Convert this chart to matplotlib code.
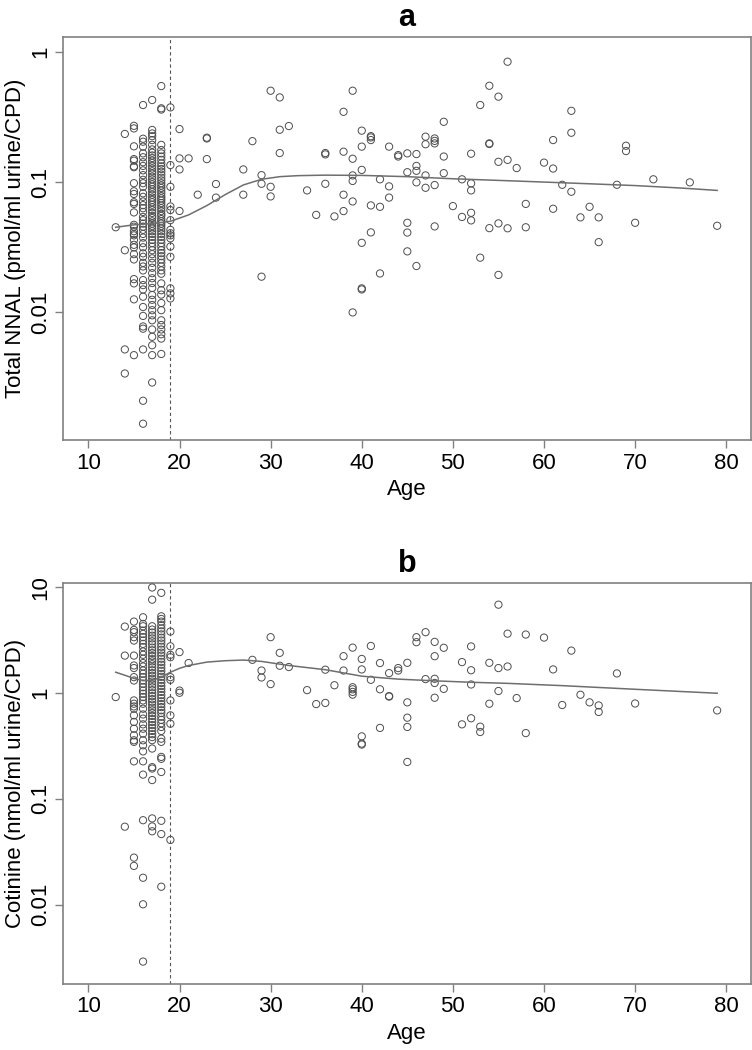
import matplotlib
matplotlib.use("Agg")
import matplotlib.pyplot as plt
import numpy as np

plt.rcParams['font.family'] = ['Liberation Sans', 'DejaVu Sans']

# ---------------- Panel a: Total NNAL ----------------
nnal_age13 = [0.045]
nnal_age14 = [0.234, 0.030, 0.0052, 0.0034]
nnal_age15 = [0.27, 0.258, 0.188, 0.15, 0.146, 0.132, 0.13, 0.098, 0.085, 0.081, 0.07,
              0.068, 0.0585, 0.047, 0.0455, 0.042, 0.04, 0.039, 0.036, 0.033, 0.0315,
              0.028, 0.0255, 0.018, 0.0167, 0.0126, 0.0047]
nnal_age16 = [0.39, 0.215, 0.204, 0.187, 0.166, 0.155, 0.142, 0.133, 0.123, 0.113, 0.104,
              0.098, 0.092, 0.082, 0.077, 0.071, 0.0665, 0.063, 0.059, 0.054, 0.051, 0.048,
              0.0455, 0.043, 0.04, 0.0375, 0.034, 0.0316, 0.0284, 0.0267, 0.024, 0.0225,
              0.021, 0.0177, 0.0162, 0.015, 0.0132, 0.011, 0.0094, 0.0078, 0.0075, 0.0052,
              0.0021, 0.0014]
nnal_age17 = [0.426, 0.251, 0.236, 0.225, 0.21, 0.193, 0.178, 0.168, 0.16, 0.153, 0.146,
              0.14, 0.133, 0.127, 0.121, 0.116, 0.11, 0.105, 0.1, 0.096, 0.092, 0.088,
              0.084, 0.08, 0.076, 0.073, 0.07, 0.067, 0.064, 0.061, 0.058, 0.055, 0.053,
              0.05, 0.048, 0.046, 0.044, 0.042, 0.04, 0.038, 0.036, 0.034, 0.032, 0.03,
              0.028, 0.026, 0.024, 0.022, 0.02, 0.0183, 0.0168, 0.0154, 0.0136, 0.0125,
              0.0114, 0.0104, 0.0095, 0.0087, 0.0074, 0.0065, 0.0056, 0.0047, 0.0029]
nnal_age18 = [0.545, 0.368, 0.36, 0.193, 0.176, 0.166, 0.157, 0.148, 0.139, 0.132, 0.126,
              0.12, 0.114, 0.108, 0.103, 0.098, 0.094, 0.09, 0.086, 0.082, 0.078, 0.075,
              0.072, 0.069, 0.066, 0.063, 0.06, 0.057, 0.055, 0.052, 0.05, 0.048, 0.046,
              0.044, 0.042, 0.04, 0.038, 0.036, 0.034, 0.032, 0.03, 0.0285, 0.027, 0.0255,
              0.024, 0.0225, 0.021, 0.0198, 0.0167, 0.0148, 0.0137, 0.0118, 0.0104, 0.0087,
              0.008, 0.0074, 0.0068, 0.0063, 0.0048]
nnal_age19 = [0.374, 0.135, 0.092, 0.065, 0.061, 0.051, 0.043, 0.039, 0.0405, 0.037,
              0.032, 0.0267, 0.0153, 0.014, 0.0128]

adult_age_a = [20, 20, 20, 20, 21, 22, 23, 23, 23, 24, 24, 27, 27, 28, 29, 29, 29, 30, 30, 30,
               31, 31, 31, 32, 34, 35, 36, 36, 36, 37, 38, 38, 38, 38,
               39, 39, 39, 39, 39, 39, 40, 40, 40, 40, 40, 40, 41, 41, 41, 41, 41,
               42, 42, 42, 43, 43, 43, 44, 44, 45, 45, 45, 45, 45, 46, 46, 46, 46, 46,
               47, 47, 47, 47, 48, 48, 48, 48, 48, 49, 49, 49, 50, 51, 51,
               52, 52, 52, 52, 52, 53, 53, 54, 54, 54, 54, 55, 55, 55, 55, 56, 56, 56,
               57, 58, 58, 60, 61, 61, 61, 62, 63, 63, 63, 64, 65, 66, 66, 68, 69, 69,
               70, 72, 76, 79]
adult_nnal = [0.255, 0.152, 0.125, 0.06, 0.152, 0.08, 0.216, 0.219, 0.15, 0.0966, 0.076,
              0.125, 0.08, 0.206, 0.113, 0.097, 0.0188, 0.502, 0.092, 0.0776,
              0.446, 0.252, 0.167, 0.269, 0.0863, 0.056, 0.167, 0.163, 0.097, 0.0545,
              0.346, 0.171, 0.08, 0.0599,
              0.502, 0.151, 0.1125, 0.102, 0.071, 0.01, 0.248, 0.187, 0.124, 0.0342, 0.0153,
              0.0150, 0.225, 0.22, 0.21, 0.0662, 0.0411,
              0.105, 0.0646, 0.0199, 0.187, 0.0927, 0.076, 0.161, 0.157,
              0.166, 0.119, 0.0487, 0.041, 0.0294, 0.164, 0.133, 0.122, 0.0995, 0.0227,
              0.223, 0.195, 0.1125, 0.0904, 0.216, 0.207, 0.198, 0.0948, 0.0457,
              0.29, 0.157, 0.117, 0.0654, 0.105, 0.054,
              0.165, 0.0977, 0.0863, 0.0581, 0.0508, 0.39, 0.0263, 0.548, 0.196, 0.198,
              0.0443, 0.452, 0.143, 0.0482, 0.0194, 0.838, 0.148, 0.0442,
              0.128, 0.068, 0.045, 0.141, 0.21, 0.127, 0.0624, 0.0953, 0.352, 0.239, 0.0843,
              0.0536, 0.0646, 0.0536, 0.0346, 0.0953, 0.19, 0.173,
              0.0487, 0.105, 0.0995, 0.0462]

smooth_age_a = [13, 15, 17, 19, 21, 23, 25, 27, 29, 31, 33, 36, 40, 45, 50, 55, 60, 65, 70, 75, 79]
smooth_nnal = [0.045, 0.047, 0.048, 0.050, 0.056, 0.066, 0.080, 0.095, 0.105, 0.110, 0.112,
               0.113, 0.1125, 0.110, 0.106, 0.103, 0.100, 0.097, 0.094, 0.090, 0.0863]

# ---------------- Panel b: Cotinine ----------------
cot_age13 = [0.92]
cot_age14 = [4.27, 2.27, 0.0547]
cot_age15 = [4.76, 3.97, 3.78, 3.39, 3.15, 2.27, 1.83, 1.73, 1.42, 1.32, 0.855, 0.796, 0.75,
             0.714, 0.618, 0.535, 0.462, 0.40, 0.359, 0.347, 0.227, 0.0279, 0.0233]
cot_age16 = [5.23, 4.52, 4.3, 3.91, 3.64, 3.39, 3.15, 2.93, 2.73, 2.48, 2.31, 2.12, 1.93,
             1.79, 1.64, 1.53, 1.42, 1.32, 1.23, 1.14, 1.06, 0.99, 0.92, 0.855, 0.796, 0.714,
             0.63, 0.575, 0.508, 0.462, 0.415, 0.359, 0.322, 0.282, 0.227, 0.17, 0.063,
             0.018, 0.0101, 0.0029]
cot_age17 = [10.0, 7.67, 4.3, 4.0, 3.75, 3.5, 3.3, 3.1, 2.9, 2.7, 2.55, 2.4, 2.25, 2.1, 2.0,
             1.88, 1.76, 1.65, 1.55, 1.46, 1.37, 1.29, 1.21, 1.14, 1.07, 1.0, 0.94, 0.88,
             0.83, 0.78, 0.73, 0.69, 0.65, 0.61, 0.57, 0.535, 0.5, 0.47, 0.44, 0.41, 0.385,
             0.36, 0.3, 0.2, 0.194, 0.151, 0.0655, 0.055, 0.0495]
cot_age18 = [8.9, 5.34, 5.04, 4.76, 4.4, 4.1, 3.85, 3.6, 3.35, 3.15, 2.95, 2.75, 2.58, 2.42,
             2.27, 2.12, 1.98, 1.86, 1.74, 1.63, 1.52, 1.43, 1.34, 1.25, 1.17, 1.1, 1.03,
             0.96, 0.9, 0.84, 0.79, 0.74, 0.69, 0.65, 0.6, 0.56, 0.52, 0.48, 0.44, 0.372,
             0.347, 0.25, 0.24, 0.18, 0.0622, 0.0466, 0.0148]
cot_age19 = [3.83, 2.78, 2.31, 2.19, 1.42, 1.34, 0.855, 0.618, 0.515, 0.041]

adult_age_b = [20, 20, 20, 21, 28, 29, 29, 30, 30, 31, 31, 32, 34, 35, 36, 36, 37, 38, 38,
               39, 39, 39, 39, 39, 40, 40, 40, 40, 40, 41, 41, 42, 42, 42, 43, 43, 43,
               44, 44, 45, 45, 45, 45, 45, 46, 46, 47, 47, 48, 48, 48, 48, 48, 49, 49,
               51, 51, 52, 52, 52, 52, 53, 53, 54, 54, 55, 55, 55, 56, 56, 57, 58, 58,
               60, 61, 62, 63, 64, 65, 66, 66, 68, 70, 79]
adult_cot = [2.45, 1.06, 1.01, 1.93, 2.07, 1.64, 1.41, 3.39, 1.22, 2.41, 1.82, 1.77, 1.07,
             0.79, 1.67, 0.81, 1.19, 2.24, 1.64,
             2.7, 1.14, 1.09, 1.03, 0.97, 2.11, 1.68, 0.391, 0.334, 0.327, 2.8, 1.34,
             1.93, 1.09, 0.47, 1.55, 0.93, 0.94,
             1.73, 1.64, 1.94, 0.82, 0.587, 0.48, 0.224, 3.39, 3.04, 3.78, 1.36,
             3.06, 2.24, 1.37, 1.25, 0.907, 2.69, 1.10,
             1.97, 0.508, 2.77, 1.65, 1.21, 0.58, 0.483, 0.43, 1.94, 0.796, 6.88, 1.73, 1.05,
             3.66, 1.79, 0.90, 3.59, 0.42,
             3.36, 1.68, 0.774, 2.53, 0.968, 0.82, 0.767, 0.665, 1.54, 0.80, 0.688]

smooth_age_b = [13, 14, 15, 16, 17, 18, 19, 20, 21, 23, 25, 27, 29, 32, 36, 40, 44, 48, 52,
                56, 62, 70, 79]
smooth_cot = [1.58, 1.48, 1.38, 1.32, 1.32, 1.42, 1.58, 1.72, 1.83, 1.97, 2.03, 2.06, 2.0,
              1.83, 1.67, 1.45, 1.36, 1.31, 1.27, 1.24, 1.18, 1.09, 1.0]

xticks = [10, 20, 30, 40, 50, 60, 70, 80]
yticks_a = [1, 0.1, 0.01]
yticklabels_a = ['1', '0.1', '0.01']
yticks_b = [10, 1, 0.1, 0.01]
yticklabels_b = ['10', '1', '0.1', '0.01']


def gather(cols, adult_x, adult_y):
    xs, ys = [], []
    for age, vals in cols:
        xs += [age] * len(vals)
        ys += list(vals)
    xs += list(adult_x)
    ys += list(adult_y)
    return np.array(xs, float), np.array(ys, float)


W, H = 752, 1050
fig = plt.figure(figsize=(W / 100, H / 100), dpi=100)

panels = [
    dict(pos=(63.5, 37.3, 750.5, 440.0), title='a',
         cols=[(13, nnal_age13), (14, nnal_age14), (15, nnal_age15), (16, nnal_age16),
               (17, nnal_age17), (18, nnal_age18), (19, nnal_age19)],
         ax_x=adult_age_a, ax_y=adult_nnal, sx=smooth_age_a, sy=smooth_nnal,
         ylim=(0.00105, 1.29), yt=yticks_a, ytl=yticklabels_a,
         ylabel='Total NNAL (pmol/ml urine/CPD)'),
    dict(pos=(63.5, 582.7, 750.5, 984.0), title='b',
         cols=[(13, cot_age13), (14, cot_age14), (15, cot_age15), (16, cot_age16),
               (17, cot_age17), (18, cot_age18), (19, cot_age19)],
         ax_x=adult_age_b, ax_y=adult_cot, sx=smooth_age_b, sy=smooth_cot,
         ylim=(0.00178, 11.1), yt=yticks_b, ytl=yticklabels_b,
         ylabel='Cotinine (nmol/ml urine/CPD)'),
]

spine_col = '#808080'
for p in panels:
    l, t, r, b = p['pos']
    ax = fig.add_axes([l / W, 1 - b / H, (r - l) / W, (b - t) / H])
    x, y = gather(p['cols'], p['ax_x'], p['ax_y'])
    ax.scatter(x, y, s=27, facecolors='none', edgecolors='#4d4d4d', linewidths=0.7,
               zorder=3)
    ax.plot(p['sx'], p['sy'], color='#6e6e6e', lw=1.1, zorder=4)
    ax.axvline(19, color='#555555', lw=0.8, ls=(0, (3, 2.5)), zorder=2)
    ax.set_yscale('log')
    ax.set_xlim(7.27, 82.66)
    ax.set_ylim(*p['ylim'])
    ax.set_xticks(xticks)
    ax.set_xticklabels([str(v) for v in xticks])
    ax.set_yticks(p['yt'])
    ax.set_yticklabels(p['ytl'], rotation=90, va='center')
    ax.minorticks_off()
    ax.tick_params(axis='both', direction='out', length=6, width=1, color=spine_col,
                   labelsize=16, pad=3)
    for s in ax.spines.values():
        s.set_color(spine_col)
        s.set_linewidth(1.2)
    ax.set_title(p['title'], fontsize=22, fontweight='bold', pad=8)
    ax.set_xlabel('Age', fontsize=16, labelpad=4)
    ax.set_ylabel(p['ylabel'], fontsize=16, labelpad=3)

fig.savefig('out.png', dpi=100)
